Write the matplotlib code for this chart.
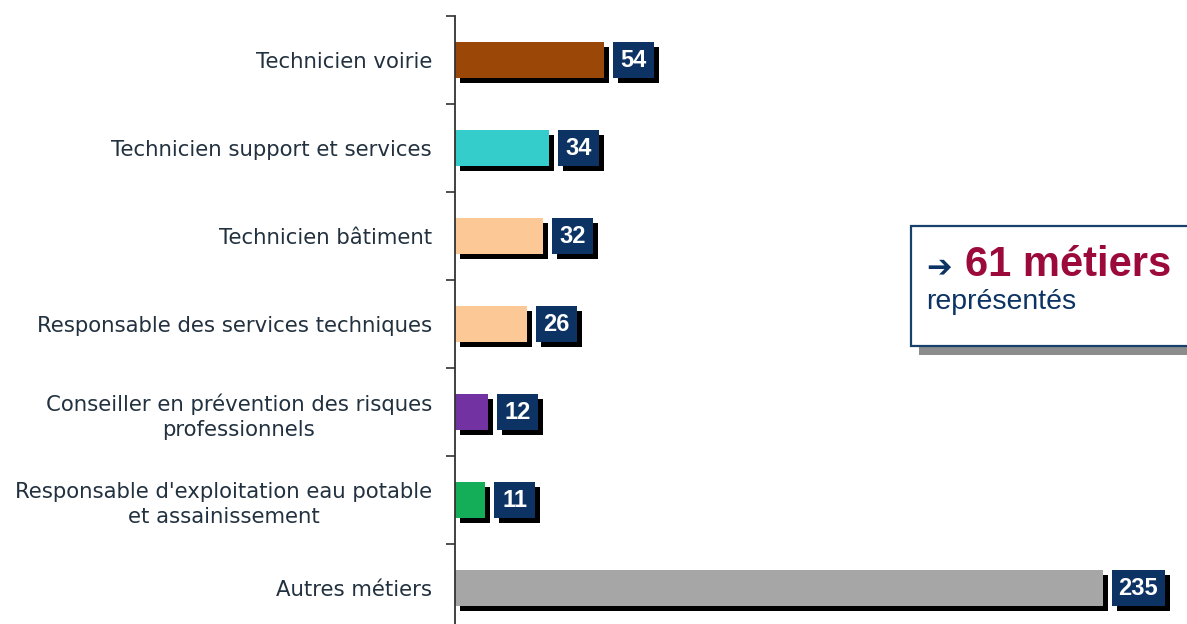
import matplotlib.pyplot as plt
import matplotlib.patheffects as pe
from matplotlib.patches import Rectangle
import numpy as np

# data
metiers = [
    "Technicien voirie",
    "Technicien support et services",
    "Technicien bâtiment",
    "Responsable des services techniques",
    "Conseiller en prévention des risques\nprofessionnels",
    "Responsable d'exploitation eau potable\net assainissement",
    "Autres métiers",
]
effectifs = [54, 34, 32, 26, 12, 11, 235]
couleurs = ["#9a4707", "#35cccc", "#fcc896", "#fcc896", "#7232a2", "#14ad58", "#a6a6a6"]

W, H = 1187, 624
NAVY = "#0c3363"
XMAX = 265.5
px_unit = (W - 455) / XMAX  # pixels par unité

fig = plt.figure(figsize=(W / 100, H / 100), dpi=100)
fig.patch.set_facecolor("white")
ax = fig.add_axes([455 / W, 1 - 632 / H, (W - 455) / W, 616 / H])

y = np.arange(len(metiers))
ombre = [pe.SimplePatchShadow(offset=(3.6, -3.6), shadow_rgbFace="black", alpha=1.0), pe.Normal()]

ax.barh(y, effectifs, height=0.4, color=couleurs, path_effects=ombre, zorder=2)

# étiquettes de valeur dans des boîtes bleu marine
gap = 9 / px_unit
for yi, v in zip(y, effectifs):
    bw = (17 + 12 * len(str(v))) / px_unit
    ax.barh(yi, bw, left=v + gap, height=0.4, color=NAVY, path_effects=ombre, zorder=2)
    ax.text(v + gap + bw / 2, yi + 0.01, str(v), ha="center", va="center", color="white",
            fontsize=17, fontweight="bold", family=["Liberation Sans Narrow", "Liberation Sans"],
            zorder=3)

ax.set_xlim(0, XMAX)
ax.set_ylim(len(metiers) - 0.5, -0.5)
ax.set_yticks(y)
ax.set_yticklabels(metiers, fontsize=15.3, color="#22313f", linespacing=1.3)
for lab in ax.get_yticklabels():
    lab.set_multialignment("center")
ax.set_yticks(np.arange(-0.5, len(metiers), 1), minor=True)
ax.tick_params(axis="y", which="major", length=0, pad=16.5)
ax.tick_params(axis="y", which="minor", length=6.5, width=1.2, color="#333333", direction="out")
ax.set_xticks([])
for s in ["top", "right", "bottom"]:
    ax.spines[s].set_visible(False)
ax.spines["left"].set_color("#333333")
ax.spines["left"].set_linewidth(1.3)


def px_box(x0, y0, x1, y1):
    return (x0 / W, 1 - y1 / H), (x1 - x0) / W, (y1 - y0) / H


# encadré "61 métiers représentés"
xy, w, h = px_box(919, 234, 1200, 355)
fig.patches.append(Rectangle(xy, w, h, transform=fig.transFigure, facecolor="#8c8c8c", edgecolor="none"))
xy, w, h = px_box(911, 226, 1196, 346)
fig.patches.append(Rectangle(xy, w, h, transform=fig.transFigure, facecolor="white",
                             edgecolor="#17406d", linewidth=1.6))

fig.text(926 / W, 1 - 276 / H, "➔", fontsize=22, fontweight="bold", color=NAVY,
         family=["DejaVu Sans"], va="baseline", ha="left")
fig.text(965 / W, 1 - 276 / H, "61 métiers", fontsize=30, fontweight="bold", color="#9b0a3a",
         family="Liberation Sans", va="baseline", ha="left")
fig.text(926 / W, 1 - 309 / H, "représentés", fontsize=20.5, color=NAVY,
         family="Liberation Sans", va="baseline", ha="left")

fig.savefig("out.png", dpi=100)
